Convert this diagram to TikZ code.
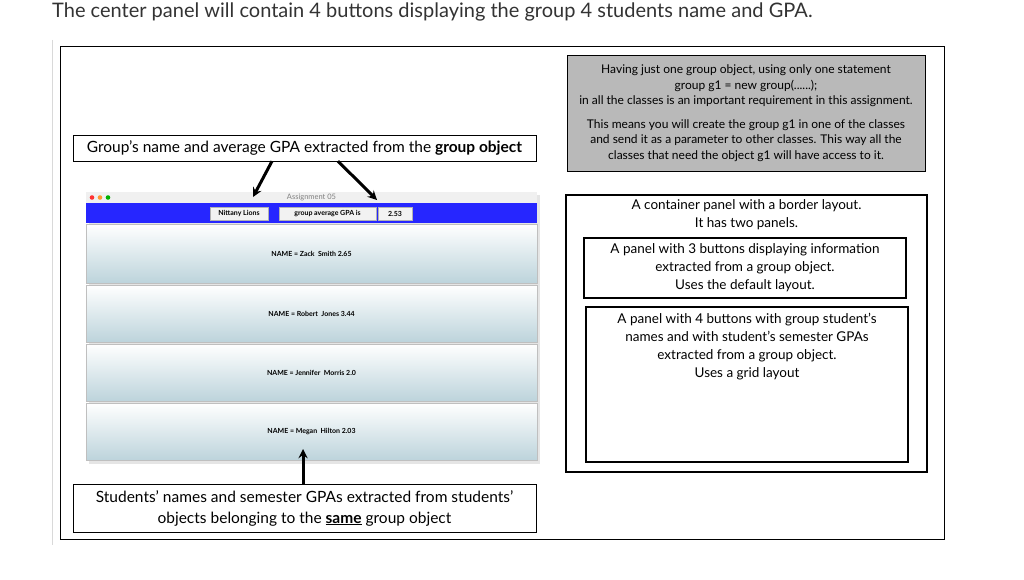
\documentclass[tikz,border=0pt]{standalone}
\usepackage{fontspec}
\setmainfont{Lato}
\usetikzlibrary{arrows}
\tikzstyle{box} = [rectangle, draw=black, text centered, align=center, inner sep=0pt]
\tikzstyle{arrow} = [line width=3pt,->,>=stealth]
\tikzstyle{row} = [rectangle, top color=white, bottom color=blue!25!cyan!30!gray!40, draw=gray!50, inner sep=0pt, font=\fontsize{7}{8}\selectfont\bfseries]
\tikzstyle{btn} = [rectangle, fill=gray!10, draw=gray!60, inner sep=0pt, font=\fontsize{7}{8}\selectfont\bfseries]

\begin{document}
\begin{tikzpicture}[x=1pt,y=-1pt]
\useasboundingbox (0,0) rectangle (1024,580);

% Heading
\node (head) [anchor=west, inner sep=0pt, font=\fontsize{20}{22}\selectfont, text=black!80] at (52,12) {The center panel will contain 4 buttons displaying the group 4 students name and GPA.};
\draw [gray!30] (52,40) -- (52,545);
\draw [line width=1pt] (60,47) rectangle (944,539);

% Note
\node (note) [box, fill=gray!55, minimum width=358pt, minimum height=116pt, font=\fontsize{12}{15.5}\selectfont] at (746,113) {Having just one group object, using only one statement\\ group g1 = new group(......);\\ in all the classes is an important requirement in this assignment.\\[8pt] This means you will create the group g1 in one of the classes\\ and send it as a parameter to other classes. This way all the\\ classes that need the object g1 will have access to it.};

% Labels
\node (topLabel) [box, minimum width=463pt, minimum height=26pt, font=\fontsize{15.5}{18}\selectfont] at (304.5,148) {Group's name and average GPA extracted from the \textbf{group object}};
\node (botLabel) [box, minimum width=463pt, minimum height=48pt, font=\fontsize{15.5}{21}\selectfont] at (304.5,508) {Students' names and semester GPAs extracted from students'\\ objects belonging to the \textbf{\underline{same}} group object};

% Window
\fill [gray!20] (89,195) rectangle (540,464);
\node (titleBar) [rectangle, fill=gray!12, minimum width=451pt, minimum height=11pt, inner sep=0pt, font=\fontsize{7.5}{8}\selectfont, text=gray] at (311.5,197.5) {Assignment 05};
\fill [red!80] (92,197.5) circle (2.3pt);
\fill [orange!80] (100,197.5) circle (2.3pt);
\fill [green!70!black] (108,197.5) circle (2.3pt);
\node (blueBar) [rectangle, fill=blue!85, minimum width=451pt, minimum height=20pt, inner sep=0pt] at (311.5,213) {};
\node (bName) [btn, minimum width=58pt, minimum height=13pt] at (239,213.5) {Nittany Lions};
\node (bAvg) [btn, minimum width=97pt, minimum height=13pt] at (327.5,213.5) {group average GPA is};
\node (bGpa) [btn, minimum width=34pt, minimum height=13pt] at (395,213.5) {2.53};
\node (r1) [row, minimum width=451pt, minimum height=59pt] at (311.5,253.5) {NAME = Zack\ \ Smith 2.65};
\node (r2) [row, minimum width=451pt, minimum height=57pt] at (311.5,313.5) {NAME = Robert\ \ Jones 3.44};
\node (r3) [row, minimum width=451pt, minimum height=57pt] at (311.5,372.5) {NAME = Jennifer\ \ Morris 2.0};
\node (r4) [row, minimum width=451pt, minimum height=57pt] at (311.5,431.5) {NAME = Megan\ \ Hilton 2.03};

% Arrows
\coordinate (tipA) at (253,197);
\coordinate (tipB) at (377,200);
\coordinate (tipC) at (303,449);
\draw [arrow] (topLabel.south -| 272,0) -- (tipA);
\draw [arrow] (topLabel.south -| 338,0) -- (tipB);
\draw [arrow] (botLabel.north -| tipC) -- (tipC);

% Layout boxes
\node (container) [box, line width=2pt, minimum width=361pt, minimum height=277pt, anchor=north] at (746.5,194) {};
\node (contText) [font=\fontsize{13.5}{18}\selectfont, align=center, anchor=north, inner sep=0pt] at (746.5,199) {A container panel with a border layout.\\ It has two panels.};
\node (panelA) [box, line width=1.5pt, minimum width=322pt, minimum height=60pt, font=\fontsize{13.5}{18}\selectfont] at (745,268) {A panel with 3 buttons displaying information\\ extracted from a group object.\\ Uses the default layout.};
\node (panelB) [box, line width=1.5pt, minimum width=322pt, minimum height=155pt] at (747,384.5) {};
\node (panelBText) [font=\fontsize{13.5}{18}\selectfont, align=center, anchor=north, inner sep=0pt] at (747,313) {A panel with 4 buttons with group student's\\ names and with student's semester GPAs\\ extracted from a group object.\\ Uses a grid layout};
\end{tikzpicture}
\end{document}
